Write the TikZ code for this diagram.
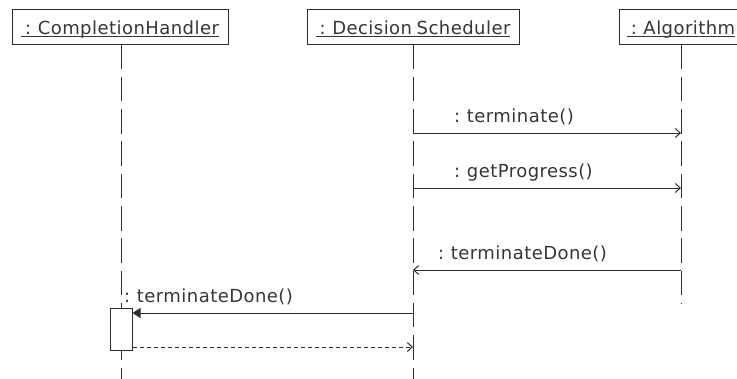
\documentclass[tikz,border=0pt]{standalone}
\usepackage{fontspec}
\setmainfont[LetterSpace=2.5, WordSpace=0.75]{DejaVu Sans}
\usetikzlibrary{arrows.meta}

\definecolor{ink}{HTML}{2E2E2E}
\definecolor{txt}{HTML}{363636}

% underlined object name, rule sitting just under the baseline
\newcommand{\objname}[1]{\setbox0\hbox{\hspace{4pt}#1}\rlap{\rule[-2.4pt]{\wd0}{0.9pt}}\box0}

\tikzset{
  objbox/.style={draw=ink, line width=1pt, fill=white, minimum height=35pt,
    inner xsep=0pt, inner ysep=0pt, text height=17pt, text depth=2pt,
    text=txt, font=\fontsize{18}{21}\selectfont},
  lifeline/.style={draw=ink, line width=1pt, dash pattern=on 24.5pt off 7.8pt},
  msgtext/.style={inner sep=0pt, anchor=base west, text=txt, font=\fontsize{18}{21}\selectfont},
  call/.style={draw=ink, line width=1pt, -{Straight Barb[length=5pt,width=9pt]}},
  sync/.style={draw=ink, line width=1pt, -{Triangle[length=8pt,width=10pt]}},
  reply/.style={draw=ink, line width=1pt, dash pattern=on 4pt off 3pt, -{Straight Barb[length=5pt,width=9pt]}},
  activation/.style={draw=ink, line width=1pt, fill=white}
}

\begin{document}
\begin{tikzpicture}[x=1pt, y=-1pt]
  \useasboundingbox (0,0) rectangle (737,378);

  % participants
  \node[objbox, minimum width=216pt] (ch)  at (120,26.5) {\objname{: CompletionHandler}};
  \node[objbox, minimum width=212pt] (ds)  at (413,26.5) {\objname{: Decision Scheduler}};
  \node[objbox, minimum width=124pt] (alg) at (681,26.5) {\objname{: Algorithm}};

  % lifeline ends
  \coordinate (chEnd)  at (121,380);
  \coordinate (dsEnd)  at (413,380);
  \coordinate (algEnd) at (681,303.5);

  \draw[lifeline] (ch.south -| chEnd) -- (chEnd);
  \draw[lifeline] (ds.south) -- (dsEnd);
  \draw[lifeline] (alg.south) -- (algEnd);

  % message anchors on the lifelines
  \coordinate (ds1)  at (413,133);  \coordinate (alg1) at (681,133);
  \coordinate (ds2)  at (413,188);  \coordinate (alg2) at (681,188);
  \coordinate (alg3) at (681,270);  \coordinate (ds3)  at (413,270);
  \coordinate (ds4)  at (413,313);
  \coordinate (ds5)  at (413,347);

  % activation on the completion handler
  \node[activation, minimum width=22pt, minimum height=42pt, inner sep=0pt] (act) at (121,329) {};
  \coordinate (act4) at (act.east |- ds4);
  \coordinate (act5) at (act.east |- ds5);

  % messages
  \draw[call] (ds1) -- (alg1);
  \node[msgtext] (m1) at (454,122) {: terminate()};

  \draw[call] (ds2) -- (alg2);
  \node[msgtext] (m2) at (454,177) {: getProgress()};

  \draw[call] (alg3) -- (ds3);
  \node[msgtext] (m3) at (438,259) {: terminateDone()};

  \draw[sync] (ds4) -- (act4);
  \node[msgtext] (m4) at (124,302) {: terminateDone()};

  \draw[reply] (act5) -- (ds5);
\end{tikzpicture}
\end{document}
